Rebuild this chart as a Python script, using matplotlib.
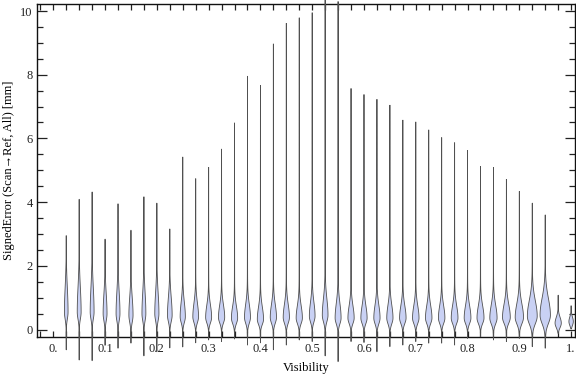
import numpy as np
import matplotlib
matplotlib.use("Agg")
import matplotlib.pyplot as plt
from matplotlib.ticker import MultipleLocator, FixedLocator

# ---- data ----
visibility = [0.025, 0.05, 0.075, 0.1, 0.125, 0.15, 0.175, 0.2, 0.225, 0.25,
              0.275, 0.3, 0.325, 0.35, 0.375, 0.4, 0.425, 0.45, 0.475, 0.5,
              0.525, 0.55, 0.575, 0.6, 0.625, 0.65, 0.675, 0.7, 0.725, 0.75,
              0.775, 0.8, 0.825, 0.85, 0.875, 0.9, 0.925, 0.95, 0.975, 1.0]
err_max = [2.95, 4.09, 4.32, 2.84, 3.95, 3.12, 4.17, 3.97, 3.16, 5.42,
           4.74, 5.10, 5.67, 6.49, 7.96, 7.67, 8.97, 9.62, 9.79, 9.95,
           10.35, 10.30, 7.57, 7.38, 7.23, 7.05, 6.58, 6.52, 6.27, 6.03,
           5.87, 5.63, 5.13, 5.10, 4.72, 4.34, 3.97, 3.60, 1.08, 0.75]
err_min = [-0.64, -0.96, -0.98, -0.50, -0.59, -0.43, -0.83, -0.70, -0.58, -0.55,
           -0.42, -0.33, -0.38, -0.30, -0.49, -0.42, -0.64, -0.49, -0.33, -0.38,
           -0.83, -1.01, -0.38, -0.41, -0.70, -0.54, -0.49, -0.38, -0.43, -0.43,
           -0.49, -0.28, -0.23, -0.33, -0.38, -0.28, -0.54, -0.59, -0.12, 0.02]
# mode of the distribution and spread of its main bulge above / below the mode
err_mode = [0.55, 0.55, 0.55, 0.50, 0.50, 0.45, 0.50, 0.50, 0.45, 0.40,
            0.40, 0.38, 0.38, 0.36, 0.38, 0.32, 0.38, 0.38, 0.36, 0.42,
            0.45, 0.36, 0.36, 0.36, 0.36, 0.36, 0.36, 0.36, 0.36, 0.36,
            0.36, 0.36, 0.36, 0.36, 0.38, 0.38, 0.42, 0.45, 0.20, 0.25]
spread_up = [0.75, 0.75, 0.75, 0.60, 0.65, 0.55, 0.65, 0.65, 0.55, 0.45,
             0.42, 0.38, 0.38, 0.36, 0.40, 0.38, 0.40, 0.40, 0.38, 0.42,
             0.50, 0.45, 0.38, 0.38, 0.40, 0.40, 0.38, 0.38, 0.38, 0.38,
             0.38, 0.38, 0.38, 0.40, 0.40, 0.42, 0.48, 0.52, 0.18, 0.14]
spread_down = [0.22, 0.22, 0.22, 0.22, 0.22, 0.22, 0.22, 0.22, 0.20, 0.18,
               0.18, 0.17, 0.17, 0.17, 0.18, 0.16, 0.18, 0.18, 0.17, 0.18,
               0.20, 0.18, 0.17, 0.17, 0.18, 0.18, 0.17, 0.17, 0.17, 0.17,
               0.17, 0.17, 0.17, 0.18, 0.18, 0.20, 0.24, 0.26, 0.14, 0.12]
# relative peak density (fraction of category spacing)
peak_density = [0.14, 0.15, 0.15, 0.15, 0.15, 0.16, 0.15, 0.16, 0.18, 0.20,
                0.22, 0.23, 0.24, 0.24, 0.23, 0.24, 0.24, 0.24, 0.24, 0.22,
                0.22, 0.23, 0.24, 0.24, 0.24, 0.24, 0.25, 0.25, 0.25, 0.25,
                0.26, 0.26, 0.27, 0.28, 0.30, 0.32, 0.38, 0.40, 0.24, 0.17]

x_ticks = [0.0, 0.1, 0.2, 0.3, 0.4, 0.5, 0.6, 0.7, 0.8, 0.9, 1.0]
x_tick_labels = ["0.", "0.1", "0.2", "0.3", "0.4", "0.5", "0.6", "0.7", "0.8", "0.9", "1."]
y_ticks = [0, 2, 4, 6, 8, 10]

# ---- plot ----
plt.rcParams['font.family'] = ['Liberation Serif', 'DejaVu Serif']
fig = plt.figure(figsize=(5.76, 3.77), dpi=100)
ax = fig.add_axes([0.0642, 0.1061, 0.9338, 0.8833])

step = 0.025
fill_col = '#c9d1f4'
edge_col = '#505050'
for x, lo, hi, c, su, sd, w in zip(visibility, err_min, err_max, err_mode,
                                   spread_up, spread_down, peak_density):
    y = np.linspace(lo, hi, 800)
    s = np.where(y > c, su, sd)
    g = np.exp(-0.5 * ((y - c) / s) ** 2)
    t = np.where(y > c,
                 0.06 * np.clip((hi - y) / (hi - c), 0, 1) ** 1.3,
                 0.05 * np.clip((y - lo) / (c - lo), 0, 1))
    h = w * step * (g + (1 - g) * t)
    xs = np.concatenate([x - h, (x + h)[::-1]])
    ys = np.concatenate([y, y[::-1]])
    ax.fill(xs, ys, facecolor=fill_col, edgecolor=edge_col, linewidth=0.6,
            clip_on=False, zorder=3)

ax.set_xlim(-0.0315, 1.0072)
ax.set_ylim(-0.235, 10.22)

ax.xaxis.set_major_locator(FixedLocator(x_ticks))
ax.set_xticklabels(x_tick_labels)
ax.xaxis.set_minor_locator(MultipleLocator(0.025))
ax.yaxis.set_major_locator(FixedLocator(y_ticks))
ax.yaxis.set_minor_locator(MultipleLocator(0.5))

ax.tick_params(which='both', direction='in', top=True, right=True,
               labelsize=9, colors='#222222', width=0.9)
ax.tick_params(axis='x', which='major', length=4, pad=4)
ax.tick_params(axis='x', which='minor', length=4)
ax.tick_params(axis='y', which='major', length=7, pad=3)
ax.tick_params(axis='y', which='minor', length=4)
for sp in ax.spines.values():
    sp.set_linewidth(1.0)
    sp.set_color('#111111')

ax.set_xlabel("Visibility", fontsize=9, labelpad=5)
ax.set_ylabel("SignedError (Scan\u2192Ref, All) [mm]", fontsize=9, labelpad=4)

fig.savefig("out.png", dpi=100)
